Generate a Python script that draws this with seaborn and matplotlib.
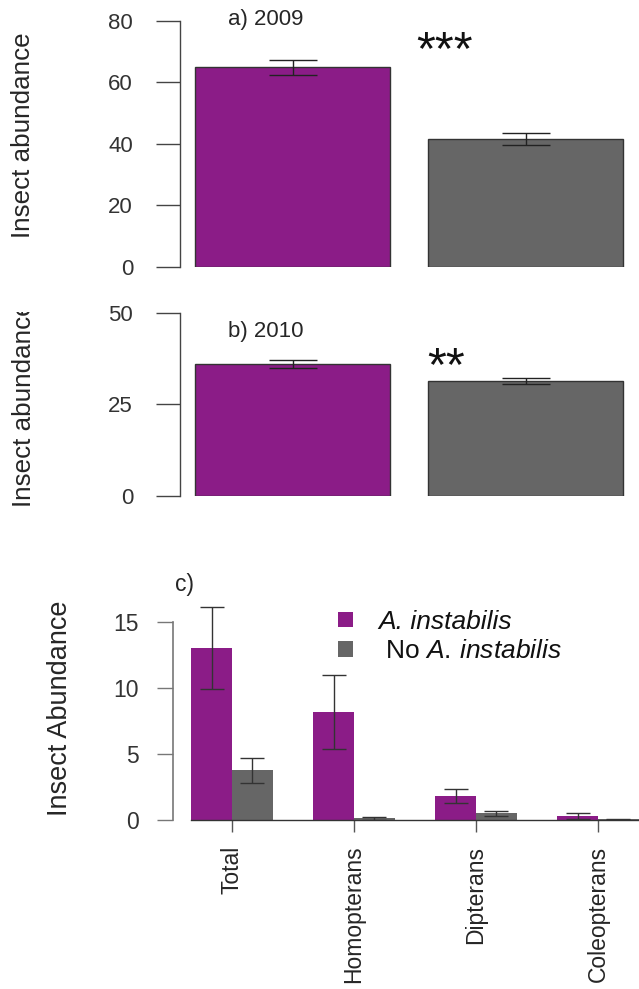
import numpy as np
import pandas as pd
import matplotlib
matplotlib.use("Agg")
import matplotlib.pyplot as plt
import seaborn as sns
from matplotlib.container import BarContainer
from matplotlib.transforms import Bbox, TransformedBbox

# Panels a (2009) and b (2010): mean insect abundance with / without A. instabilis
treatments = ["A. instabilis", "No A. instabilis"]
mean_2009 = [65.0, 41.6]
se_2009 = [2.4, 1.9]
mean_2010 = [36.1, 31.4]
se_2010 = [1.1, 0.85]

# Panel c: abundance by insect group
groups = ["Total", "Homopterans", "Dipterans", "Coleopterans"]
mean_with = [13.0, 8.2, 1.82, 0.30]
se_with = [3.1, 2.8, 0.53, 0.25]
mean_without = [3.75, 0.12, 0.50, 0.05]
se_without = [0.95, 0.10, 0.18, 0.04]

yticks_a = [0, 20, 40, 60, 80]
yticks_b = [0, 25, 50]
yticks_c = [0, 5, 10, 15]

PURPLE = "#8B1C87"
GREY = "#666666"
palette = {treatments[0]: PURPLE, treatments[1]: GREY}

sns.set_style("white")
plt.rcParams["font.family"] = ["Liberation Sans", "DejaVu Sans"]
plt.rcParams["mathtext.fontset"] = "custom"
plt.rcParams["mathtext.rm"] = "Liberation Sans"
plt.rcParams["mathtext.it"] = "Liberation Sans:italic"

W, H = 639, 989
fig = plt.figure(figsize=(W / 100, H / 100), dpi=100)
fig.patch.set_facecolor("white")


def px_axes(left, top, right, bottom):
    """Axes placed by pixel edges measured from the top-left corner."""
    return fig.add_axes([left / W, 1 - bottom / H, (right - left) / W, (bottom - top) / H])


ax_a = px_axes(180, 21, 639, 267)
ax_b = px_axes(180, 313, 639, 496)
ax_c = px_axes(173, 595.3, 639, 820)

AXIS_COL = "#444444"
TEXT_COL = "#262626"


def bar_centers(ax):
    bars = [b for c in ax.containers if isinstance(c, BarContainer) for b in c]
    return sorted(b.get_x() + b.get_width() / 2 for b in bars)


# ---- panels a and b -------------------------------------------------------
for ax, means, ses, ticks in [
    (ax_a, mean_2009, se_2009, yticks_a),
    (ax_b, mean_2010, se_2010, yticks_b),
]:
    df = pd.DataFrame({"treatment": treatments, "abundance": means})
    sns.barplot(data=df, x="treatment", y="abundance", hue="treatment",
                palette=palette, saturation=1, width=0.837,
                edgecolor="#333333", linewidth=1.0, legend=False, ax=ax)
    xs = bar_centers(ax)
    ax.errorbar(xs, means, yerr=ses, fmt="none", ecolor="#222222",
                elinewidth=1.0, capsize=17, capthick=1.0, zorder=5)
    ax.set_xlim(-0.483, 1.487)
    ax.set_ylim(ticks[0], ticks[-1])
    ax.set_yticks(ticks)
    ax.set_xticks([])
    ax.set_xlabel("")
    for s in ["top", "right", "bottom"]:
        ax.spines[s].set_visible(False)
    ax.spines["left"].set_bounds(ticks[0], ticks[-1])
    ax.spines["left"].set_color(AXIS_COL)
    ax.spines["left"].set_linewidth(1.0)
    ax.tick_params(axis="y", direction="out", length=17.3, width=1.0,
                   color=AXIS_COL, pad=16.5, labelsize=16, labelcolor="#333333",
                   left=True)
    ax.patch.set_alpha(0)
    ax.set_ylabel("Insect abundance", fontsize=18.7, color=TEXT_COL)
    ax.yaxis.label.set_va("center")

ax_a.yaxis.set_label_coords((23 - 180) / 459, (267 - 135.5) / 246)
ax_b.yaxis.set_label_coords((24 - 180) / 459, 0.5)
# the 2010 axis title is cut off at the top of its panel
clip = TransformedBbox(Bbox.from_extents(0, 0, 1, (H - 312) / H), fig.transFigure)
ax_b.yaxis.label.set_clip_box(clip)
ax_b.yaxis.label.set_clip_on(True)

fig.text(228 / W, 1 - 20 / H, "a) 2009", ha="left", va="center",
         fontsize=16, color=TEXT_COL)
fig.text(228 / W, 1 - 331 / H, "b) 2010", ha="left", va="center",
         fontsize=16, color=TEXT_COL)
fig.text(416 / W, 1 - 64 / H, "***", ha="left", va="baseline",
         fontsize=35, color="#111111")
fig.text(427 / W, 1 - 380 / H, "**", ha="left", va="baseline",
         fontsize=35, color="#111111")

# ---- panel c --------------------------------------------------------------
df_c = pd.DataFrame({
    "group": groups * 2,
    "abundance": mean_with + mean_without,
    "treatment": [treatments[0]] * len(groups) + [treatments[1]] * len(groups),
})
sns.barplot(data=df_c, x="group", y="abundance", hue="treatment",
            hue_order=treatments, palette=palette, saturation=1, width=0.667,
            edgecolor="none", linewidth=0, ax=ax_c)

xs_c = bar_centers(ax_c)
means_c = [v for pair in zip(mean_with, mean_without) for v in pair]
ses_c = [v for pair in zip(se_with, se_without) for v in pair]
ax_c.errorbar(xs_c, means_c, yerr=ses_c, fmt="none", ecolor="#333333",
              elinewidth=1.0, capsize=8.3, capthick=1.0, zorder=5)

ax_c.set_xlim(-0.4836, 3.336)
ax_c.set_ylim(0, 17)
ax_c.set_yticks(yticks_c)
ax_c.set_xticks(range(len(groups)))
ax_c.set_xticklabels(groups, rotation=90, fontsize=16.5, color=TEXT_COL)
ax_c.set_xlabel("")
for s in ["top", "right"]:
    ax_c.spines[s].set_visible(False)
ax_c.spines["left"].set_bounds(0, 15)
ax_c.spines["left"].set_color("#777777")
ax_c.spines["left"].set_linewidth(1.2)
ax_c.spines["bottom"].set_bounds(-0.3335, 3.336)
ax_c.spines["bottom"].set_color("#333333")
ax_c.spines["bottom"].set_linewidth(1.0)
ax_c.tick_params(axis="y", direction="out", length=11.5, width=1.0,
                 color="#777777", pad=13, labelsize=16.5, labelcolor="#333333",
                 left=True)
ax_c.tick_params(axis="x", direction="out", length=8.6, width=1.0,
                 color="#555555", pad=10, bottom=True)
ax_c.patch.set_alpha(0)
ax_c.set_ylabel("Insect Abundance", fontsize=19.5, color=TEXT_COL)
ax_c.yaxis.label.set_va("center")
ax_c.yaxis.set_label_coords((60 - 173) / 466, (820 - 708) / 224.7)

fig.text(175 / W, 1 - 584 / H, "c)", ha="left", va="center",
         fontsize=16.5, color=TEXT_COL)

handles, _ = ax_c.get_legend_handles_labels()
leg = ax_c.legend(handles, ["A. instabilis", r" No $\it{A.\,instabilis}$"],
                  loc="upper left", bbox_to_anchor=(338 / W, 1 - 610 / H),
                  bbox_transform=fig.transFigure, frameon=False, fontsize=19,
                  handlelength=0.56, handleheight=0.52, handletextpad=0.95,
                  labelspacing=0.2, borderpad=0, borderaxespad=0)
leg.get_texts()[0].set_fontstyle("italic")
for t in leg.get_texts():
    t.set_color("#111111")

fig.savefig("out.png", dpi=100, facecolor="white")
